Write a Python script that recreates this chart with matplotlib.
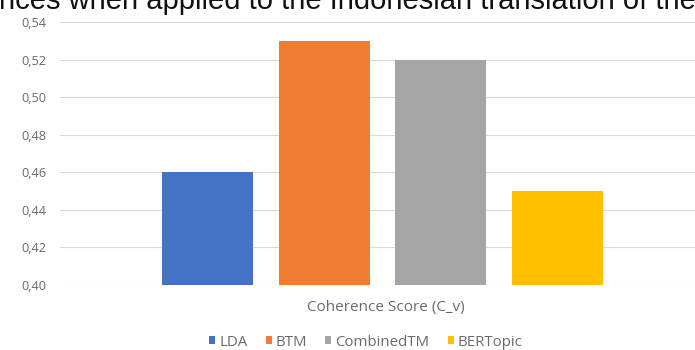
import matplotlib
matplotlib.use("Agg")
import matplotlib.pyplot as plt
from matplotlib.patches import Patch
from matplotlib.ticker import FixedLocator, FuncFormatter

models = ["LDA", "BTM", "CombinedTM", "BERTopic"]
scores = [0.46, 0.53, 0.52, 0.45]
colors = ["#4472C4", "#ED7D31", "#A5A5A5", "#FFC000"]
yticks = [0.40, 0.42, 0.44, 0.46, 0.48, 0.50, 0.52, 0.54]
category = "Coherence Score (C_v)"
caption = "nces when applied to the Indonesian translation of the"

plt.rcParams['font.family'] = ['Open Sans', 'DejaVu Sans']

W, H = 695, 350
fig = plt.figure(figsize=(W/100, H/100), dpi=100)
ax = fig.add_axes([60/W, 65/H, 1 - 60/W, (285-22)/H])

pos = list(range(len(models)))
ax.bar(pos, scores, width=0.78, color=colors, zorder=3, bottom=0)
ax.set_ylim(0.40, 0.54)
ax.set_xlim(-1.264, 4.178)
ax.yaxis.set_major_locator(FixedLocator(yticks))
ax.yaxis.set_major_formatter(FuncFormatter(lambda v, p: f"{v:.2f}".replace(".", ",")))
ax.grid(axis='y', color="#d9d9d9", linewidth=0.8, zorder=0)
ax.set_xticks([])
for s in ax.spines.values():
    s.set_visible(False)
ax.tick_params(axis='y', length=0, pad=10, labelsize=9.2, labelcolor="#6a6a6a")

fig.text(386/W, 1 - 307/H, category, ha='center', va='center', fontsize=11, color="#6a6a6a")

handles = [Patch(facecolor=c, edgecolor='none', label=m) for m, c in zip(models, colors)]
fig.legend(handles=handles, loc='center', bbox_to_anchor=(366/W, 1 - 342/H), ncol=4,
           frameon=False, fontsize=10.8, labelcolor="#6a6a6a", handlelength=0.4,
           handleheight=0.4, handletextpad=0.27, columnspacing=1.2,
           borderpad=0, borderaxespad=0)

fig.text(0.5, 1 - 9/H, caption, ha='center', va='baseline', fontsize=21, color="#111111",
         family=['Liberation Sans', 'DejaVu Sans'])

fig.savefig("out.png", dpi=100)
